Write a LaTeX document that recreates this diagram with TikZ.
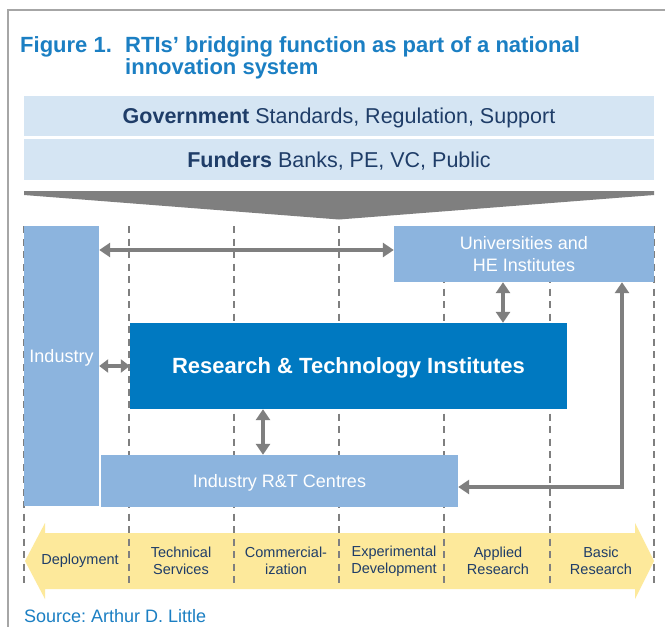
\documentclass[tikz,border=0pt]{standalone}
\usepackage{fontspec}
\setmainfont{Liberation Sans}
\usetikzlibrary{arrows.meta}
\frenchspacing
\definecolor{framegray}{HTML}{A6A6A6}
\definecolor{titleblue}{HTML}{1B7FC3}
\definecolor{bandblue}{HTML}{D5E5F3}
\definecolor{navy}{HTML}{1F3D68}
\definecolor{boxblue}{HTML}{8CB4DE}
\definecolor{rtiblue}{HTML}{0079C1}
\definecolor{arrowgray}{HTML}{7F7F7F}
\definecolor{stageyellow}{HTML}{FDE99B}
\newcommand{\fs}[1]{\fontsize{#1}{#1}\selectfont}
\tikzset{
  band/.style={fill=bandblue, draw=none, minimum width=630, text=navy, font=\fs{21.5}, text depth=0pt},
  lightbox/.style={fill=boxblue, draw=none, text=white, font=\fs{18}, align=center},
  stagelabel/.style={text=navy, font=\fs{14.5}, align=center, inner sep=0},
  stagediv/.style={arrowgray, line width=1.3, dash pattern=on 7 off 5.5},
  dbl/.style={arrowgray, line width=4, {Triangle[length=11,width=14]}-{Triangle[length=11,width=14]}},
  dblsmall/.style={arrowgray, line width=4, {Triangle[length=9,width=13]}-{Triangle[length=9,width=13]}},
}
\begin{document}
\begin{tikzpicture}[x=1pt, y=-1pt]
\useasboundingbox (0,0) rectangle (665,627);
\fill[white] (0,0) rectangle (665,627);

% outer frame (left and top edges)
\draw[framegray, line width=2.5] (665,10) -- (8,10) -- (8,627);

% title
\node[anchor=base west, inner sep=0, text=titleblue, font=\fs{22}\bfseries] (fig) at (20,52) {Figure 1.};
\node[anchor=base west, inner sep=0, text=titleblue, font=\fs{22}\bfseries] (title1) at (125,52)
  {RTIs’ bridging function as part of a national};
\node[anchor=base west, inner sep=0, text=titleblue, font=\fs{22}\bfseries] (title2) at (125,74)
  {innovation system};

% government and funders bands
\node[band, minimum height=40] (gov) at (339,116) {\textbf{Government} Standards, Regulation, Support};
\node[band, minimum height=41] (fund) at (339,159.5) {\textbf{Funders} Banks, PE, VC, Public};

% funnel
\fill[arrowgray] (24,191) -- (654,191) -- (654,195) -- (339,219.5) -- (24,195) -- cycle;

% stage arrow
\fill[stageyellow] (25,561) -- (45,523) -- (45,533) -- (635,533) -- (635,523) -- (654,561)
  -- (635,599) -- (635,589) -- (45,589) -- (45,599) -- cycle;

% stage dividers
\foreach \xx in {24,129,234,339,444,550,654}
  \draw[stagediv] (\xx,226) -- (\xx,584);

% actors
\node[lightbox, minimum width=75, minimum height=280,
      label={[text=white, font=\fs{18}, yshift=8]center:Industry}] (ind) at (61.5,366) {};
\node[lightbox, minimum width=260, minimum height=56] (uni) at (524,254) {Universities and\\[4pt]HE Institutes};
\node[fill=rtiblue, draw=none, minimum width=437, minimum height=86, text=white, font=\fs{22}\bfseries,
      text depth=0pt] (rti) at (348.5,366) {Research \& Technology Institutes};
\node[lightbox, minimum width=357, minimum height=52, text depth=0pt] (rtc) at (279.5,481) {Industry R\&T Centres};

% links
\coordinate (ya) at (0,250);
\coordinate (xb) at (503,0);
\coordinate (xc) at (263,0);
\coordinate (xd) at (622,0);
\coordinate (yd) at (0,487);
\draw[dbl] (ind.east |- ya) -- (uni.west |- ya);
\draw[dbl] (uni.south -| xb) -- (rti.north -| xb);
\draw[dblsmall] (ind.east |- rti.west) -- (rti.west);
\draw[dbl] (rti.south -| xc) -- (rtc.north -| xc);
\draw[dbl, line width=3.5] (uni.south -| xd) -- (xd |- yd) -- (rtc.east |- yd);

% stage labels
\node[stagelabel] (s1) at (80,561) {Deployment};
\node[stagelabel] (s2) at (181,561) {Technical\\[2pt]Services};
\node[stagelabel] (s3) at (286,561) {Commercial-\\[2pt]ization};
\node[stagelabel] (s4) at (394,561) {Experimental\\[2pt]Development};
\node[stagelabel] (s5) at (498,561) {Applied\\[2pt]Research};
\node[stagelabel] (s6) at (601,561) {Basic\\[2pt]Research};

% source
\node[anchor=base west, inner sep=0, text=titleblue, font=\fs{18}] (src) at (24,622) {Source: Arthur D. Little};
\end{tikzpicture}
\end{document}
